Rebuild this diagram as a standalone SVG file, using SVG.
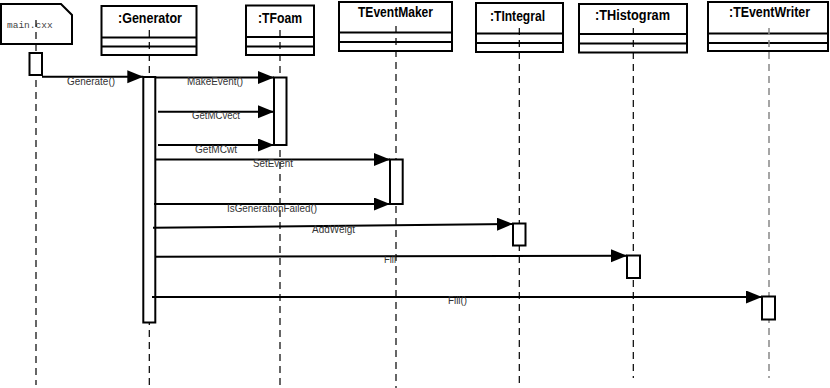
<svg xmlns="http://www.w3.org/2000/svg" width="830" height="388" viewBox="0 0 830 388">
<style>
  .box{fill:#fff;stroke:#000;stroke-width:2}
  .sep{stroke:#000;stroke-width:2}
  .head{font-family:"Liberation Sans",Arial,sans-serif;font-weight:bold;font-size:14.5px;fill:#000}
  .life{stroke:#000;stroke-width:1.2;stroke-dasharray:7 5;fill:none}
  .act{fill:#fff;stroke:#000;stroke-width:2}
  .msg{stroke:#000;stroke-width:2;fill:none;marker-end:url(#arr)}
  .lbl{font-family:"Liberation Sans",Arial,sans-serif;font-size:11px;fill:#333}
  .note{fill:#fff;stroke:#000;stroke-width:2}
  .notetxt{font-family:"Liberation Mono","Courier New",monospace;font-size:9.5px;fill:#444}
</style>
<defs>
  <marker id="arr" markerUnits="userSpaceOnUse" markerWidth="17" markerHeight="14" refX="16" refY="6.5" orient="auto">
    <path d="M0,0 L16,6.5 L0,13 Z" fill="#000"/>
  </marker>
</defs>
<rect width="830" height="388" fill="#fff"/>

<g id="main">
  <polygon class="note" points="1,4 61,4 72,15 72,44 1,44"/>
  <text class="notetxt" x="7" y="28">main.cxx</text>
  <line class="life" x1="36" y1="20" x2="36" y2="385"/>
  <rect class="act" x="29.5" y="53" width="12.5" height="22"/>
</g>

<g id="generator">
  <rect class="box" x="101.5" y="6" width="95" height="49"/>
  <line class="sep" x1="101.5" y1="37.5" x2="196.5" y2="37.5"/>
  <line class="sep" x1="101.5" y1="46.5" x2="196.5" y2="46.5"/>
  <text class="head" x="118" y="23" textLength="64" lengthAdjust="spacingAndGlyphs">:Generator</text>
  <line class="life" x1="149.3" y1="30" x2="149.3" y2="388"/>
  <rect class="act" x="143.3" y="77" width="12" height="245.5"/>
</g>

<g id="tfoam">
  <rect class="box" x="246" y="5.5" width="68" height="49.5"/>
  <line class="sep" x1="246" y1="37" x2="314" y2="37"/>
  <line class="sep" x1="246" y1="46.5" x2="314" y2="46.5"/>
  <text class="head" x="258" y="23" textLength="44" lengthAdjust="spacingAndGlyphs">:TFoam</text>
  <line class="life" x1="280" y1="30" x2="280" y2="388"/>
  <rect class="act" x="274" y="77.5" width="12.5" height="67.5"/>
</g>

<g id="teventmaker">
  <rect class="box" x="339" y="2" width="113" height="49"/>
  <line class="sep" x1="339" y1="32.5" x2="452" y2="32.5"/>
  <line class="sep" x1="339" y1="42" x2="452" y2="42"/>
  <text class="head" x="358" y="17" textLength="75" lengthAdjust="spacingAndGlyphs">TEventMaker</text>
  <line class="life" x1="396" y1="26" x2="396" y2="388"/>
  <rect class="act" x="390" y="159.5" width="12.7" height="44.5"/>
</g>

<g id="tintegral">
  <rect class="box" x="476" y="3" width="87" height="49"/>
  <line class="sep" x1="476" y1="33.5" x2="563" y2="33.5"/>
  <line class="sep" x1="476" y1="43" x2="563" y2="43"/>
  <text class="head" x="490" y="21" textLength="55" lengthAdjust="spacingAndGlyphs">:TIntegral</text>
  <line class="life" x1="519.3" y1="28" x2="519.3" y2="388"/>
  <rect class="act" x="513" y="223.5" width="12.5" height="22"/>
</g>

<g id="thistogram">
  <rect class="box" x="579" y="4" width="108" height="48.5"/>
  <line class="sep" x1="579" y1="34" x2="687" y2="34"/>
  <line class="sep" x1="579" y1="43.5" x2="687" y2="43.5"/>
  <text class="head" x="595" y="19.5" textLength="75" lengthAdjust="spacingAndGlyphs">:THistogram</text>
  <line class="life" x1="633.3" y1="28" x2="633.3" y2="378"/>
  <rect class="act" x="627" y="255.5" width="13" height="22.5"/>
</g>

<g id="teventwriter">
  <rect class="box" x="708" y="2" width="120" height="49"/>
  <line class="sep" x1="708" y1="33.5" x2="828" y2="33.5"/>
  <line class="sep" x1="708" y1="43" x2="828" y2="43"/>
  <text class="head" x="729" y="17" textLength="81" lengthAdjust="spacingAndGlyphs">:TEventWriter</text>
  <line class="life" x1="769" y1="28" x2="769" y2="378" style="stroke:#888;stroke-width:1.5"/>
  <rect class="act" x="762" y="296.5" width="13" height="23"/>
</g>

<g id="connectors">
  <line class="msg" x1="42" y1="76.7" x2="143.3" y2="76.7"/>
  <text class="lbl" x="67" y="84.5" textLength="48" lengthAdjust="spacingAndGlyphs">Generate()</text>

  <line class="msg" x1="155.3" y1="77.5" x2="274" y2="77.5"/>
  <text class="lbl" x="187" y="85" textLength="56" lengthAdjust="spacingAndGlyphs">MakeEvent()</text>

  <line class="msg" x1="158" y1="111.7" x2="274" y2="111.7"/>
  <text class="lbl" x="192" y="118.5" textLength="48" lengthAdjust="spacingAndGlyphs">GetMCvect</text>

  <line class="msg" x1="158" y1="145" x2="274" y2="145"/>
  <text class="lbl" x="195" y="153" textLength="42" lengthAdjust="spacingAndGlyphs">GetMCwt</text>

  <line class="msg" x1="155" y1="159.5" x2="390" y2="159.5"/>
  <text class="lbl" x="253" y="167" textLength="40" lengthAdjust="spacingAndGlyphs">SetEvent</text>

  <line class="msg" x1="154" y1="204" x2="390" y2="204"/>
  <text class="lbl" x="227" y="212" textLength="90" lengthAdjust="spacingAndGlyphs">IsGenerationFailed()</text>

  <line class="msg" x1="153" y1="227.7" x2="513" y2="224"/>
  <text class="lbl" x="312" y="233" textLength="43" lengthAdjust="spacingAndGlyphs">AddWeigt</text>

  <line class="msg" x1="155" y1="256.7" x2="627" y2="255.7"/>
  <text class="lbl" x="384" y="262.5" textLength="12" lengthAdjust="spacingAndGlyphs">Fill</text>

  <line class="msg" x1="152" y1="297" x2="762" y2="297"/>
  <text class="lbl" x="448" y="303.5" textLength="19" lengthAdjust="spacingAndGlyphs">Fill()</text>
</g>
</svg>
